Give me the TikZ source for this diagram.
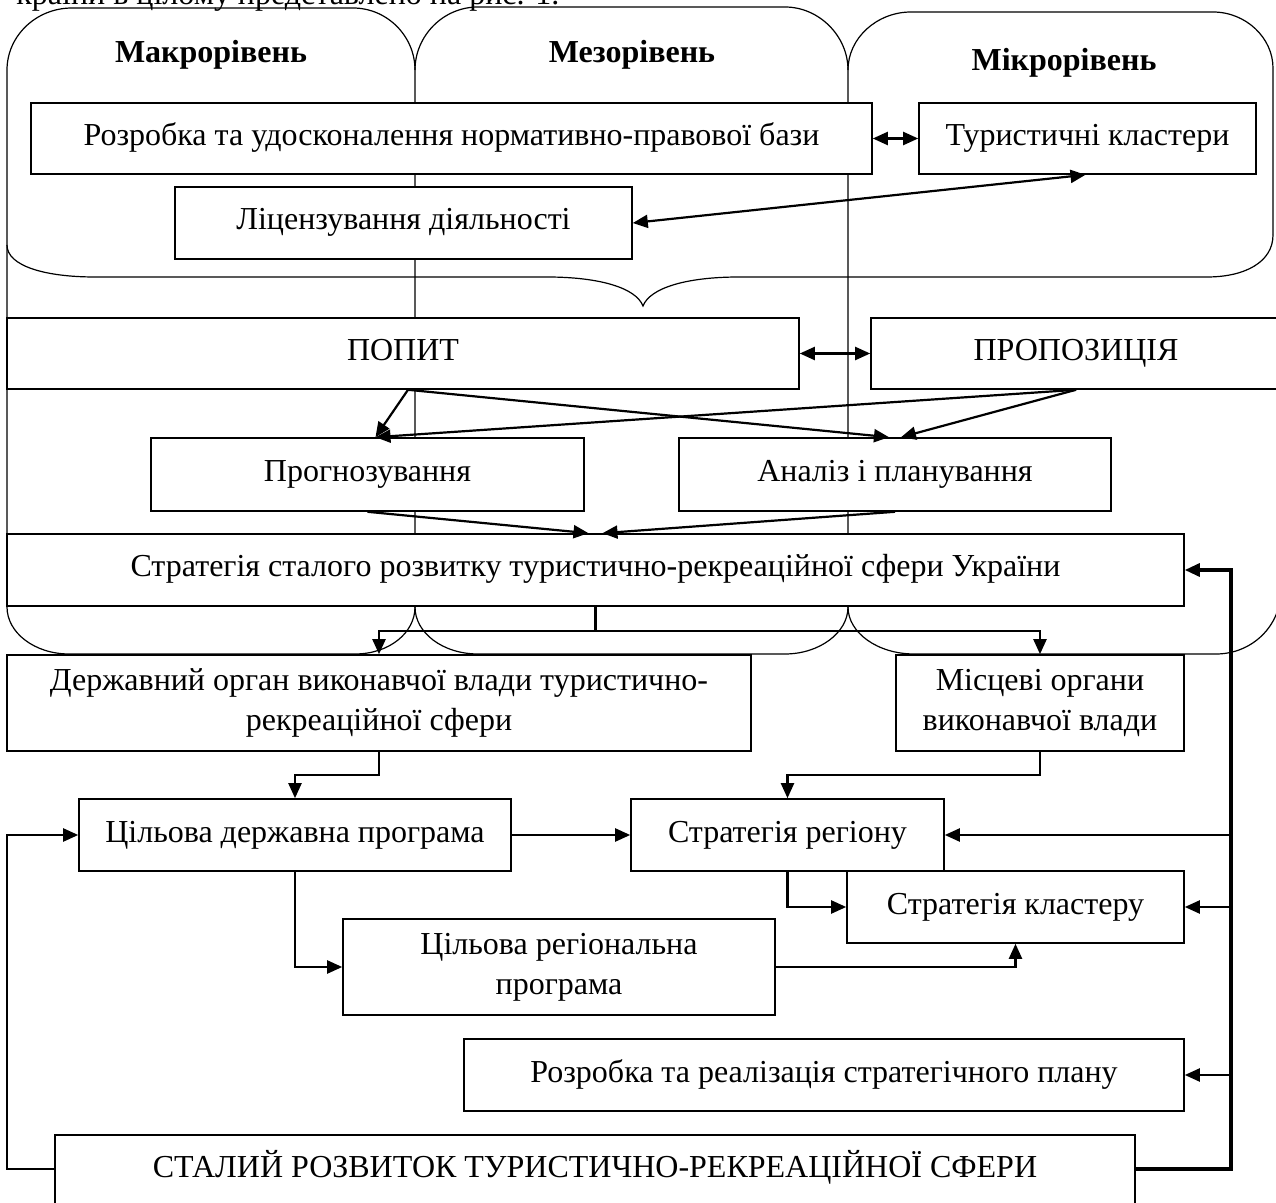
\documentclass[tikz,border=0pt]{standalone}
\usepackage{fontspec}
\setmainfont{Liberation Serif}
\usetikzlibrary{arrows.meta,calc}

\begin{document}
\begin{tikzpicture}[x=0.5pt,y=-0.5pt,
  box/.style={draw, line width=0.8pt, fill=white, inner sep=0pt, align=center,
              font=\fontsize{16}{20}\selectfont},
  oneline/.style={text height=11pt, text depth=4pt},
  conn/.style={line width=1.1pt, -{Triangle[length=7.5pt,width=6.5pt]}},
  both/.style={line width=1.1pt, {Triangle[length=7.5pt,width=6.5pt]}-{Triangle[length=7.5pt,width=6.5pt]}},
  feedback/.style={line width=1.6pt, -{Triangle[length=7.5pt,width=6.5pt]}},
  outline/.style={line width=0.6pt},
  head/.style={font=\fontsize{16}{20}\selectfont\bfseries}
]
\useasboundingbox (0,0) rectangle (1276,1203);

% running text of the page above the figure
\begin{scope}
  \clip (0,0) rectangle (1276,1203);
  \node[anchor=base west, inner sep=0pt, font=\fontsize{16}{20}\selectfont] (intro) at (16,5)
    {країни в цілому представлено на рис. 1.};
\end{scope}

% level columns
\draw[outline] (415,607) -- (415,70) .. controls (415,36) and (387,8) .. (353,8)
  -- (72,8) .. controls (36,8) and (7,36) .. (7,70) -- (7,607)
  .. controls (7,633) and (35,654) .. (69,654) -- (355,654)
  .. controls (389,654) and (415,633) .. (415,607);
\draw[outline] (848,607) -- (848,70) .. controls (848,36) and (819,7) .. (785,7)
  -- (478,7) .. controls (443,7) and (415,36) .. (415,70);
\draw[outline] (415,607) .. controls (415,633) and (443,654) .. (478,654)
  -- (785,654) .. controls (819,654) and (848,633) .. (848,607);
\draw[outline] (848,70) .. controls (848,38) and (877,12) .. (911,12)
  -- (1213,12) .. controls (1246,12) and (1273,38) .. (1273,68) -- (1273,235);
\draw[outline] (848,607) .. controls (848,633) and (878,654) .. (914,654)
  -- (1216,654) .. controls (1252,654) and (1281,626) .. (1281,590) -- (1281,400);

% brace closing the regulatory block
\draw[outline] (7,245) .. controls (7,266) and (45,277) .. (95,277) -- (547,277)
  .. controls (600,277) and (636,288) .. (643,306)
  .. controls (650,288) and (686,277) .. (739,277) -- (1207,277)
  .. controls (1245,277) and (1273,262) .. (1273,235);

% level headings
\node[head] (hmac) at (211,55) {Макрорівень};
\node[head] (hmes) at (632,55) {Мезорівень};
\node[head] (hmic) at (1064,63) {Мікрорівень};

% boxes
\node[box, oneline, minimum width=420.5pt, minimum height=35.5pt] (roz) at (451.5,138.5)
  {Розробка та удосконалення нормативно-правової бази};
\node[box, oneline, minimum width=168.5pt, minimum height=35.5pt] (clu) at (1087.5,138.5)
  {Туристичні кластери};
\node[box, oneline, minimum width=228.5pt, minimum height=36pt] (lic) at (403.5,223)
  {Ліцензування діяльності};
\node[box, oneline, minimum width=396pt, minimum height=35.5pt] (popit) at (403,353.5) {ПОПИТ};
\node[box, oneline, minimum width=205pt, minimum height=35.5pt] (prop) at (1076,353.5) {ПРОПОЗИЦІЯ};
\node[box, oneline, minimum width=216.5pt, minimum height=36.5pt] (prog) at (367.5,474.5) {Прогнозування};
\node[box, oneline, minimum width=216pt, minimum height=36.5pt] (anal) at (895,474.5) {Аналіз і планування};
\node[box, oneline, minimum width=588.5pt, minimum height=36pt] (strat) at (595.5,570)
  {Стратегія сталого розвитку туристично-рекреаційної сфери України};
\node[box, minimum width=372pt, minimum height=48pt] (derzh) at (379,703)
  {Державний орган виконавчої влади туристично-\\рекреаційної сфери};
\node[box, minimum width=144pt, minimum height=48pt] (misc) at (1040,703)
  {Місцеві органи\\виконавчої влади};
\node[box, oneline, minimum width=216pt, minimum height=36pt] (tdp) at (295,835)
  {Цільова державна програма};
\node[box, oneline, minimum width=156.5pt, minimum height=36pt] (sreg) at (787.5,835)
  {Стратегія регіону};
\node[box, oneline, minimum width=168.5pt, minimum height=36pt] (sclu) at (1015.5,907)
  {Стратегія кластеру};
\node[box, minimum width=216pt, minimum height=48pt] (trp) at (559,967)
  {Цільова регіональна\\програма};
\node[box, oneline, minimum width=360pt, minimum height=36pt] (rplan) at (824,1075)
  {Розробка та реалізація стратегічного плану};
\node[box, minimum width=540pt, minimum height=50pt, text height=12pt, text depth=20pt]
  (stalyi) at (595,1185) {СТАЛИЙ РОЗВИТОК ТУРИСТИЧНО-РЕКРЕАЦІЙНОЇ СФЕРИ};

% links in the regulatory block
\draw[both] (roz.east) -- (clu.west);
\draw[both] (lic.east) -- ($(clu.south)+(-2,0)$);
\draw[both] (popit.east) -- (prop.west);

% demand and supply feed forecasting and planning
\coordinate (pp) at ($(popit.south)+(5,0)$);
\draw[conn] (pp) -- ($(prog.north)+(8,0)$);
\draw[conn] (pp) -- ($(anal.north)+(-6,0)$);
\draw[conn] (prop.south) -- ($(prog.north)+(8,0)$);
\draw[conn] (prop.south) -- ($(anal.north)+(6,0)$);
\draw[conn] (prog.south) -- ($(strat.north)+(-7,0)$);
\draw[conn] (anal.south) -- ($(strat.north)+(7,0)$);

% implementation chain
\draw[conn] (strat.south) -- ++(0,24) -| (derzh.north);
\draw[conn] (strat.south) -- ++(0,24) -| (misc.north);
\draw[conn] (derzh.south) -- ++(0,23) -| (tdp.north);
\draw[conn] (misc.south) -- ++(0,23) -| (sreg.north);
\draw[conn] (tdp.east) -- (sreg.west);
\draw[conn] (tdp.south) |- (trp.west);
\draw[conn] (sreg.south) |- (sclu.west);
\draw[conn] (trp.east) -| (sclu.south);

% feedback loops from the outcome
\coordinate (rail) at (1231,1169);
\draw[feedback] ($(stalyi.east)+(0,-16)$) -- (rail) |- (strat.east);
\draw[conn] (sreg.east -| rail) -- (sreg.east);
\draw[conn] (sclu.east -| rail) -- (sclu.east);
\draw[conn] (rplan.east -| rail) -- (rplan.east);
\draw[conn] ($(stalyi.west)+(0,-16)$) -- ++(-47,0) |- (tdp.west);

\end{tikzpicture}
\end{document}
